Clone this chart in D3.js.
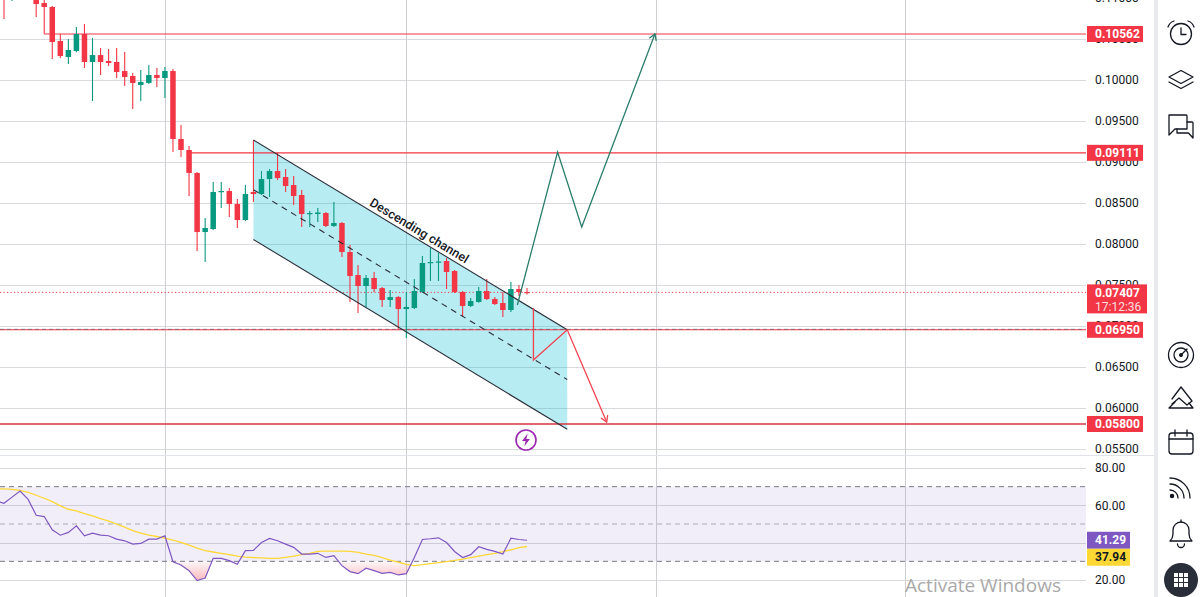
<!DOCTYPE html>
<html lang="en">
<head>
<meta charset="UTF-8">
<title>Descending channel</title>
<script src="https://d3js.org/d3.v7.min.js"></script>
<style>
  html, body { margin: 0; padding: 0; background: #fff; overflow: hidden; }
  svg { display: block; font-family: Roboto, "Open Sans", sans-serif; }
</style>
</head>
<body>
<svg id="svg" width="1203" height="597"></svg>
<script>
// ---- data ----
// one value per bar, bar 0 = first bar at the left edge
const opens = [0.11148, 0.11050, 0.11172, 0.11075, 0.11014, 0.10940, 0.10892, 0.10476, 0.10281, 0.10354,
    0.10562, 0.10220, 0.10305, 0.10232, 0.10220, 0.10110, 0.10049, 0.09939, 0.09964, 0.10061,
    0.10025, 0.10110, 0.09280, 0.09146, 0.08865, 0.08144, 0.08181, 0.08633, 0.08645, 0.08486,
    0.08291, 0.08633, 0.08608, 0.08791, 0.08889, 0.08816, 0.08718, 0.08596, 0.08364, 0.08364,
    0.08376, 0.08218, 0.08254, 0.07900, 0.07619, 0.07485, 0.07583, 0.07460, 0.07314, 0.07350,
    0.07204, 0.07216, 0.07412, 0.07766, 0.07778, 0.07790, 0.07668, 0.07412, 0.07241, 0.07290,
    0.07424, 0.07326, 0.07277, 0.07192, 0.07448, 0.07412];
const highs = [0.11221, 0.11246, 0.11221, 0.11197, 0.11050, 0.11001, 0.10904, 0.10562, 0.10501, 0.10647,
    0.10684, 0.10513, 0.10391, 0.10379, 0.10391, 0.10342, 0.10086, 0.10122, 0.10183, 0.10147,
    0.10159, 0.10135, 0.09451, 0.09194, 0.08877, 0.08315, 0.08755, 0.08755, 0.08682, 0.08547,
    0.08718, 0.09268, 0.08889, 0.08913, 0.09112, 0.08913, 0.08828, 0.08657, 0.08401, 0.08437,
    0.08389, 0.08511, 0.08266, 0.07986, 0.07741, 0.07619, 0.07656, 0.07473, 0.07436, 0.07363,
    0.07412, 0.07570, 0.07851, 0.07949, 0.07888, 0.07827, 0.07680, 0.07424, 0.07338, 0.07473,
    0.07570, 0.07350, 0.07412, 0.07534, 0.07497, 0.07460];
const lows = [0.10745, 0.10965, 0.11014, 0.11001, 0.10769, 0.10562, 0.10257, 0.10269, 0.10196, 0.10340,
    0.10147, 0.09744, 0.10061, 0.10171, 0.10025, 0.09927, 0.09646, 0.09744, 0.09951, 0.09915,
    0.09780, 0.09121, 0.09060, 0.08584, 0.07912, 0.07778, 0.08169, 0.08437, 0.08327, 0.08193,
    0.08279, 0.08511, 0.08596, 0.08572, 0.08779, 0.08633, 0.08474, 0.08205, 0.08205, 0.08266,
    0.08205, 0.08205, 0.07839, 0.07290, 0.07155, 0.07229, 0.07412, 0.07229, 0.07229, 0.06955,
    0.06850, 0.07204, 0.07399, 0.07546, 0.07546, 0.07448, 0.07399, 0.07106, 0.07229, 0.07282,
    0.07314, 0.07253, 0.07106, 0.07167, 0.07363, 0.07380];
const closes = [0.11026, 0.11172, 0.11075, 0.11148, 0.10928, 0.10892, 0.10464, 0.10293, 0.10367, 0.10562,
    0.10220, 0.10305, 0.10220, 0.10208, 0.10098, 0.10037, 0.09964, 0.09976, 0.10061, 0.10025,
    0.10110, 0.09280, 0.09146, 0.08865, 0.08144, 0.08193, 0.08633, 0.08645, 0.08486, 0.08291,
    0.08608, 0.08608, 0.08791, 0.08889, 0.08803, 0.08706, 0.08584, 0.08364, 0.08376, 0.08382,
    0.08218, 0.08254, 0.07900, 0.07607, 0.07485, 0.07583, 0.07448, 0.07314, 0.07350, 0.07204,
    0.07229, 0.07424, 0.07766, 0.07778, 0.07784, 0.07656, 0.07412, 0.07241, 0.07302, 0.07424,
    0.07326, 0.07265, 0.07192, 0.07448, 0.07412, 0.07407];

// RSI and its moving average start one bar before bar 0
const rsiFirstBar = -1;
const rsiValues = [62.4, 61.1, 64.4, 67.7, 63.2, 54.7, 54.0, 46.9, 44.0, 45.5, 49.0, 43.7, 45.1, 44.0,
    43.7, 41.9, 41.0, 39.2, 39.6, 41.9, 41.9, 43.7, 29.8, 28.0, 25.0, 19.7, 21.1, 31.6, 31.6, 30.4,
    28.4, 35.7, 35.9, 40.1, 42.3, 41.0, 39.2, 37.5, 33.9, 33.9, 34.3, 32.1, 33.0, 27.7, 24.5, 23.4,
    26.3, 25.0, 23.6, 24.1, 22.7, 23.4, 32.1, 41.7, 42.1, 42.6, 40.1, 35.3, 32.0, 33.6, 37.8, 36.4,
    35.3, 33.9, 42.4, 41.7, 41.29];
const rsiMaValues = [68.9, 68.8, 68.6, 68.0, 67.0, 65.4, 63.8, 62.0, 59.7, 57.9, 57.0, 55.6, 54.4, 52.9,
    51.5, 49.9, 48.3, 46.5, 45.1, 44.0, 43.3, 42.4, 41.4, 40.1, 38.7, 37.1, 35.7, 35.0, 34.3, 33.6,
    32.8, 32.3, 32.0, 31.8, 31.6, 31.6, 32.1, 32.8, 33.6, 34.3, 35.3, 35.5, 35.5, 35.5, 35.3, 34.8,
    33.9, 33.2, 32.0, 30.7, 29.6, 28.4, 27.7, 28.2, 28.8, 29.3, 29.8, 30.5, 31.2, 32.0, 32.8, 33.6,
    34.3, 35.2, 36.2, 37.3, 37.94];

const priceTicks = [0.055, 0.060, 0.065, 0.070, 0.075, 0.080, 0.085, 0.090, 0.095, 0.100, 0.105, 0.110];
const rsiTicks = [20, 40, 60, 80];
const rsiBandLevels = [30, 50, 70];
const timeGridBars = [20, 50, 81, 112];

// drawn levels: price and the bar where the ray starts (null = full width)
const levelPrices = [0.10562, 0.09111, 0.06950, 0.05800];
const levelStartBars = [5, 23, null, null];
const lastPrice = 0.07407;
const lastTime = "17:12:36";

// descending channel: upper line [bar, price] and the channel depth in price
const channelUpper = [[31, 0.09268], [70, 0.06950]];
const channelDepth = 0.01215;
const channelLabel = "Descending channel";

// projected paths [bar, price]
const bullPath = [[63.8, 0.07253], [68.8, 0.09121], [71.8, 0.08205], [80.9, 0.10562]];
const bearPath = [[65.8, 0.07216], [65.8, 0.06581], [70, 0.06950], [74.9, 0.05824]];
const eventBar = 65;

// ---- layout ----
const width = 1203, height = 597;
const plotRight = 1086;
const paneDivider = 455;
const up = "#089981", down = "#f23645";

const svg = d3.select("#svg");

const x = d3.scaleLinear().domain([0, 65]).range([4, 527]);
const y = d3.scaleLinear().domain([0.058, 0.10562]).range([424, 34]);
const yR = d3.scaleLinear().domain([20, 80]).range([580, 468]);

const defs = svg.append("defs");
defs.append("clipPath").attr("id", "mainClip")
    .append("rect").attr("x", 0).attr("y", 0).attr("width", plotRight).attr("height", paneDivider);
defs.append("clipPath").attr("id", "rsiClip")
    .append("rect").attr("x", 0).attr("y", paneDivider + 1).attr("width", plotRight).attr("height", height - paneDivider);
defs.append("clipPath").attr("id", "oversoldClip")
    .append("rect").attr("x", 0).attr("y", yR(30)).attr("width", plotRight).attr("height", height);
const grad = defs.append("linearGradient").attr("id", "oversoldGrad")
    .attr("gradientUnits", "userSpaceOnUse")
    .attr("x1", 0).attr("x2", 0).attr("y1", yR(30)).attr("y2", yR(20));
grad.append("stop").attr("offset", 0).attr("stop-color", "#f23645").attr("stop-opacity", 0.04);
grad.append("stop").attr("offset", 1).attr("stop-color", "#f23645").attr("stop-opacity", 0.34);

svg.append("rect").attr("width", width).attr("height", height).attr("fill", "#fff");

// ---- grid ----
const grid = svg.append("g").attr("stroke-width", 1).attr("shape-rendering", "crispEdges");
grid.selectAll(".hg").data(priceTicks).enter().append("line")
    .attr("x1", 0).attr("x2", plotRight)
    .attr("y1", d => Math.round(y(d)) + 0.5).attr("y2", d => Math.round(y(d)) + 0.5)
    .attr("stroke", "#d9dadd");
grid.selectAll(".rg").data(rsiTicks).enter().append("line")
    .attr("x1", 0).attr("x2", plotRight)
    .attr("y1", d => Math.round(yR(d)) + 0.5).attr("y2", d => Math.round(yR(d)) + 0.5)
    .attr("stroke", "#d9dadd");
grid.selectAll(".vg").data(timeGridBars).enter().append("line")
    .attr("x1", d => Math.round(x(d)) + 0.5).attr("x2", d => Math.round(x(d)) + 0.5)
    .attr("y1", 0).attr("y2", height)
    .attr("stroke", "#cfd0d3");

// pane divider and toolbar separator
svg.append("line").attr("x1", 0).attr("x2", 1155).attr("y1", paneDivider + 0.5).attr("y2", paneDivider + 0.5)
    .attr("stroke", "#e0e3eb");
svg.append("rect").attr("x", 1154).attr("y", 0).attr("width", 4).attr("height", height).attr("fill", "#e9eaed");

// ---- main pane ----
const main = svg.append("g").attr("clip-path", "url(#mainClip)");

const upperA = channelUpper[0], upperB = channelUpper[1];
const channelPoly = [
    [x(upperA[0]), y(upperA[1])], [x(upperB[0]), y(upperB[1])],
    [x(upperB[0]), y(upperB[1] - channelDepth)], [x(upperA[0]), y(upperA[1] - channelDepth)]
];
main.append("path")
    .attr("d", "M" + channelPoly.join("L") + "Z")
    .attr("fill", "#00bcd4").attr("fill-opacity", 0.28);

// horizontal levels
levelPrices.forEach((p, i) => {
    const x0 = levelStartBars[i] === null ? 0 : x(levelStartBars[i]);
    main.append("line")
        .attr("x1", x0).attr("x2", plotRight)
        .attr("y1", y(p)).attr("y2", y(p))
        .attr("stroke", i === 3 ? "#d8333f" : down).attr("stroke-width", i === 3 ? 1.3 : 1.1);
});
// dark dashed ray over the 0.0695 level
main.append("line")
    .attr("x1", 0).attr("x2", plotRight)
    .attr("y1", y(levelPrices[2]) - 0.5).attr("y2", y(levelPrices[2]) - 0.5)
    .attr("stroke", "#4a4a55").attr("stroke-opacity", 0.55).attr("stroke-dasharray", "4,3");

// last price dotted line
main.append("line")
    .attr("x1", 0).attr("x2", plotRight)
    .attr("y1", y(lastPrice)).attr("y2", y(lastPrice))
    .attr("stroke", down).attr("stroke-width", 1).attr("stroke-dasharray", "1.2,2.3");

// candles
const bars = opens.map((o, i) => ({ i, o, h: highs[i], l: lows[i], c: closes[i] }));
const bodyW = 5.5;
const candle = main.append("g").selectAll("g").data(bars).enter().append("g");
candle.append("line")
    .attr("x1", d => x(d.i)).attr("x2", d => x(d.i))
    .attr("y1", d => y(d.h)).attr("y2", d => y(d.l))
    .attr("stroke", d => d.c >= d.o ? up : down).attr("stroke-width", 1.1);
candle.append("rect")
    .attr("x", d => x(d.i) - bodyW / 2).attr("width", bodyW)
    .attr("y", d => y(Math.max(d.o, d.c)))
    .attr("height", d => Math.max(1.2, Math.abs(y(d.o) - y(d.c))))
    .attr("fill", d => d.c >= d.o ? up : down);

// channel lines
const chLine = (a, b, dash) => main.append("line")
    .attr("x1", x(a[0])).attr("y1", y(a[1])).attr("x2", x(b[0])).attr("y2", y(b[1]))
    .attr("stroke", "#2a2e39").attr("stroke-width", 1.1)
    .attr("stroke-dasharray", dash || null);
chLine(upperA, upperB);
chLine([upperA[0], upperA[1] - channelDepth], [upperB[0], upperB[1] - channelDepth]);
chLine([upperA[0], upperA[1] - channelDepth / 2], [upperB[0], upperB[1] - channelDepth / 2], "6,5");

// channel label
const ax = x(upperA[0]), ay = y(upperA[1]), bx = x(upperB[0]), by = y(upperB[1]);
const angle = Math.atan2(by - ay, bx - ax) * 180 / Math.PI;
const t = 0.515;
main.append("text")
    .attr("transform", `translate(${ax + (bx - ax) * t},${ay + (by - ay) * t}) rotate(${angle})`)
    .attr("dy", -4)
    .attr("text-anchor", "middle")
    .attr("font-size", 12.5).attr("font-weight", 500).attr("fill", "#131722")
    .text(channelLabel);

// projection paths with arrow heads
const lineGen = d3.line().x(d => x(d[0])).y(d => y(d[1]));
function arrowPath(pts, color) {
    main.append("path").attr("d", lineGen(pts))
        .attr("fill", "none").attr("stroke", color).attr("stroke-width", 1.3).attr("stroke-linejoin", "miter");
    const p1 = pts[pts.length - 2], p2 = pts[pts.length - 1];
    const x1 = x(p1[0]), y1 = y(p1[1]), x2 = x(p2[0]), y2 = y(p2[1]);
    const a = Math.atan2(y2 - y1, x2 - x1), len = 7, spread = 0.55;
    const wing = s => [x2 - len * Math.cos(a + s), y2 - len * Math.sin(a + s)];
    main.append("path")
        .attr("d", "M" + wing(spread) + "L" + [x2, y2] + "L" + wing(-spread))
        .attr("fill", "none").attr("stroke", color).attr("stroke-width", 1.3);
}
arrowPath(bullPath, "#2a7d6c");
arrowPath(bearPath, "#f0444f");

// event marker (lightning)
const ev = main.append("g").attr("transform", `translate(${x(eventBar) - 1},440)`);
ev.append("circle").attr("r", 10).attr("fill", "#fff").attr("stroke", "#9c27b0").attr("stroke-width", 1.6);
ev.append("path").attr("d", "M1.8,-6.5 L-4,1 L-0.3,1 L-1.8,6.5 L4,-1 L0.3,-1 Z").attr("fill", "#9c27b0");

// ---- RSI pane ----
const rsiG = svg.append("g").attr("clip-path", "url(#rsiClip)");
rsiG.append("rect")
    .attr("x", 0).attr("width", plotRight)
    .attr("y", yR(70)).attr("height", yR(30) - yR(70))
    .attr("fill", "#7e57c2").attr("fill-opacity", 0.1);
rsiG.selectAll(".band").data(rsiBandLevels).enter().append("line")
    .attr("x1", 0).attr("x2", plotRight)
    .attr("y1", d => yR(d)).attr("y2", d => yR(d))
    .attr("stroke", d => d === 50 ? "#a8abb4" : "#787b86")
    .attr("stroke-dasharray", "5,4").attr("stroke-width", 1);

const rsiPts = rsiValues.map((v, j) => [rsiFirstBar + j, v]);
const maPts = rsiMaValues.map((v, j) => [rsiFirstBar + j, v]);

rsiG.append("path")
    .attr("clip-path", "url(#oversoldClip)")
    .attr("d", d3.area().x(d => x(d[0])).y0(yR(30)).y1(d => yR(d[1]))(rsiPts))
    .attr("fill", "url(#oversoldGrad)");

rsiG.append("path")
    .attr("d", d3.line().x(d => x(d[0])).y(d => yR(d[1]))(maPts))
    .attr("fill", "none").attr("stroke", "#fdd835").attr("stroke-width", 1.3);
rsiG.append("path")
    .attr("d", d3.line().x(d => x(d[0])).y(d => yR(d[1]))(rsiPts))
    .attr("fill", "none").attr("stroke", "#7e57c2").attr("stroke-width", 1.2);

// ---- axes ----
const axisX = 1095;
const axis = svg.append("g").attr("font-size", 12).attr("fill", "#131722");
axis.selectAll(".pt").data(priceTicks).enter().append("text")
    .attr("x", axisX).attr("y", d => y(d)).attr("dy", "0.35em")
    .text(d => d.toFixed(5));
axis.selectAll(".rt").data(rsiTicks).enter().append("text")
    .attr("x", axisX).attr("y", d => yR(d)).attr("dy", "0.35em")
    .text(d => d.toFixed(2));

function tag(cy, txt, fill, color, w, h) {
    svg.append("rect").attr("x", 1087).attr("y", cy - h / 2).attr("width", w).attr("height", h).attr("fill", fill);
    svg.append("text").attr("x", axisX).attr("y", cy).attr("dy", "0.35em")
        .attr("font-size", 12).attr("font-weight", 700).attr("fill", color).text(txt);
}
[0, 1, 3].forEach(i => tag(y(levelPrices[i]), levelPrices[i].toFixed(5), down, "#fff", 56, 16));
// last price tag with countdown
svg.append("rect").attr("x", 1087).attr("y", y(lastPrice) - 8).attr("width", 60).attr("height", 29).attr("fill", down);
svg.append("text").attr("x", axisX).attr("y", y(lastPrice)).attr("dy", "0.35em")
    .attr("font-size", 12).attr("font-weight", 700).attr("fill", "#fff").text(lastPrice.toFixed(5));
svg.append("text").attr("x", axisX).attr("y", y(lastPrice) + 14).attr("dy", "0.35em")
    .attr("font-size", 12).attr("fill", "#fff").attr("fill-opacity", 0.85).text(lastTime);
tag(y(levelPrices[2]), levelPrices[2].toFixed(5), down, "#fff", 56, 16);

// RSI tags, stacked when they collide
const rsiLast = rsiValues[rsiValues.length - 1], maLast = rsiMaValues[rsiMaValues.length - 1];
const rsiTags = [
    { v: rsiLast, fill: "#7e57c2", color: "#fff" },
    { v: maLast, fill: "#fdd835", color: "#131722" }
].map(d => ({ ...d, cy: yR(d.v) })).sort((a, b) => a.cy - b.cy);
for (let i = 1; i < rsiTags.length; i++) {
    if (rsiTags[i].cy < rsiTags[i - 1].cy + 17) rsiTags[i].cy = rsiTags[i - 1].cy + 17;
}
rsiTags.forEach(d => tag(d.cy, d.v.toFixed(2), d.fill, d.color, 43, 17));

// ---- right toolbar ----
const icons = svg.append("g").attr("fill", "none").attr("stroke", "#131722")
    .attr("stroke-width", 1.3).attr("stroke-linecap", "round").attr("stroke-linejoin", "round");
function icon(cy) { return icons.append("g").attr("transform", `translate(1181,${cy})`); }

let g = icon(33);
g.append("circle").attr("r", 10.5).attr("cy", 1);
g.append("path").attr("d", "M0,-5 V1.5 H5");
g.append("path").attr("d", "M-13,-6 Q-11.5,-10.5 -7,-12");
g.append("path").attr("d", "M13,-6 Q11.5,-10.5 7,-12");

g = icon(79);
g.append("path").attr("d", "M-12,-2 L0,-8.5 L12,-2 L0,4.5 Z");
g.append("path").attr("d", "M-12,3 L0,9.5 L12,3");

g = icon(126);
g.append("path").attr("d", "M-12,-11 H5 Q6,-11 6,-10 V3 H-6 L-12,9 Z");
g.append("path").attr("d", "M6,-4 H11 Q12,-4 12,-3 V12 L7.5,7 H-4 V3");

g = icon(355);
g.append("circle").attr("r", 12.5);
g.append("circle").attr("r", 7);
g.append("path").attr("d", "M0,0 L6,-6");
g.append("circle").attr("r", 1.3).attr("fill", "#131722");

g = icon(398);
g.append("path").attr("d", "M-9,1 L0,-11 L11,3 L6,7 L-2,0 L-9,6");
g.append("path").attr("d", "M-12,10 L-6,4 M8,5 L12,10 H-12");

g = icon(442);
g.append("rect").attr("x", -12).attr("y", -9).attr("width", 24).attr("height", 21).attr("rx", 3);
g.append("path").attr("d", "M-12,-3 H12");
g.append("path").attr("d", "M-6,-12 V-6 M6,-12 V-6");

g = icon(487);
g.append("circle").attr("cx", -9).attr("cy", 9).attr("r", 1.6).attr("fill", "#131722");
[8, 14, 20].forEach(r => g.append("path").attr("d", `M-11,${11 - r} A${r},${r} 0 0 1 ${r - 11},11`));

g = icon(533);
g.append("path").attr("d", "M-11,8 H11 Q8,5 8,1 V-3 A8,8 0 0 0 -8,-3 V1 Q-8,5 -11,8 Z");
g.append("path").attr("d", "M0,-11 V-13");
g.append("path").attr("d", "M-3.5,11 A3.5,3.5 0 0 0 3.5,11");

const menu = svg.append("g").attr("transform", "translate(1181,580)");
menu.append("circle").attr("r", 17).attr("fill", "#2a2e39");
[-7, -2, 3].forEach(cx => [-7, -2, 3].forEach(cy =>
    menu.append("rect").attr("x", cx).attr("y", cy).attr("width", 4).attr("height", 4).attr("fill", "#fff")));

// OS watermark
svg.append("text").attr("x", 905).attr("y", 592)
    .attr("font-family", "'Open Sans', sans-serif").attr("font-size", 19).attr("fill", "#a9a9a9")
    .text("Activate Windows");
</script>
</body>
</html>
